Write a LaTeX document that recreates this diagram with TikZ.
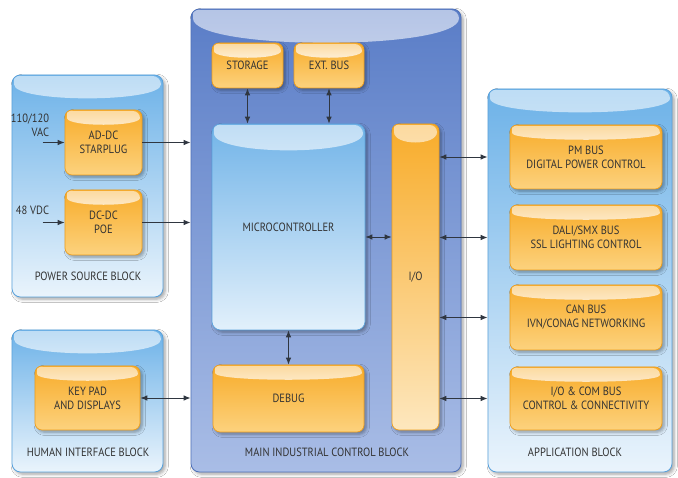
\documentclass[tikz,border=0pt]{standalone}
\usepackage{fontspec}
\setmainfont[FakeStretch=0.88]{PT Sans}
\usepackage{tikz}
\usetikzlibrary{calc,arrows.meta,shadows.blur}
\definecolor{mainbg}{HTML}{5A7DC7}
\definecolor{mainlow}{HTML}{A9BDE6}
\definecolor{mainedge}{HTML}{4F71B9}
\definecolor{sidebg}{HTML}{6DB2E8}
\definecolor{sidelow}{HTML}{EAF4FC}
\definecolor{sideedge}{HTML}{5AA2DC}
\definecolor{mcubg}{HTML}{72B4E8}
\definecolor{mculow}{HTML}{E2F0FB}
\definecolor{amber}{HTML}{F8AC2A}
\definecolor{amberlow}{HTML}{FCD27E}
\definecolor{amberedge}{HTML}{EE9E1C}
\definecolor{iolow}{HTML}{FDE7BE}
\definecolor{ink}{HTML}{333333}
\definecolor{wire}{HTML}{2F3640}
\tikzset{
  sz/.style 2 args={minimum width=#1*0.025cm, minimum height=#2*0.025cm},
  gloss/.style 2 args={path picture={
    \shade[top color=#1!45!white, bottom color=white, middle color=white!92!#1]
      ($(path picture bounding box.north west)+(2,1)$) --
      ($(path picture bounding box.north east)+(-2,1)$) ..
      controls ($(path picture bounding box.north east)+(-2,#2)$) and
      ($(path picture bounding box.north west)+(2,#2)$) .. cycle;}},
  soft/.style={blur shadow={shadow xshift=1.6pt, shadow yshift=-1.6pt,
    shadow blur radius=2.2pt, shadow opacity=35}},
  block/.style={rounded corners=6pt, draw=sideedge, line width=0.6pt,
    top color=sidebg, bottom color=sidelow, gloss={sidebg}{28}, soft},
  mainblk/.style={block, draw=mainedge, top color=mainbg, bottom color=mainlow,
    gloss={mainbg}{42}},
  mcu/.style={rounded corners=6pt, draw=sideedge, line width=0.5pt,
    top color=mcubg, bottom color=mculow, gloss={mcubg}{32}, soft,
    text=ink, font=\fontsize{8.5}{10}\selectfont},
  unit/.style={rounded corners=5pt, draw=amberedge, line width=0.5pt,
    top color=amber, bottom color=amberlow, gloss={amber}{17}, soft,
    text=ink, align=center, font=\fontsize{8.5}{10}\selectfont},
  iobar/.style={unit, bottom color=iolow, gloss={amber}{22}},
  lab/.style={text=ink, align=center, font=\fontsize{8.5}{10}\selectfont},
  one/.style={draw=wire, line width=0.7pt, -{Latex[length=5pt,width=4pt]}},
  dbl/.style={draw=wire, line width=0.7pt,
    {Latex[length=5pt,width=4pt]}-{Latex[length=5pt,width=4pt]}}
}
\begin{document}
\begin{tikzpicture}[x=0.025cm, y=-0.025cm]
  \useasboundingbox[fill=white] (0,0) rectangle (678,478);

  \node[block, sz={151}{222}] (power) at (87.5,186) {};
  \node[block, sz={151}{142}] (human) at (87.5,401) {};
  \node[mainblk, sz={270}{463}] (main) at (326,240.5) {};
  \node[block, sz={184}{383}] (app) at (580,280.5) {};

  \node[unit, sz={77}{65}] (acdc) at (103.5,142.5) {AD-DC\\STARPLUG};
  \node[unit, sz={77}{65}] (dcdc) at (103.5,222.5) {DC-DC\\POE};
  \node[unit, sz={105}{64}] (keypad) at (87.5,398) {KEY PAD\\AND DISPLAYS};

  \node[unit, sz={71}{45}] (storage) at (247.5,65.5) {STORAGE};
  \node[unit, sz={70}{45}] (extbus) at (329,65.5) {EXT. BUS};
  \node[mcu, sz={153}{206}] (micro) at (288.5,227) {MICROCONTROLLER};
  \node[unit, sz={151}{67}] (debug) at (288.5,398.5) {DEBUG};
  \node[iobar, sz={47}{306}] (io) at (415.5,277) {I/O};

  \node[unit, sz={152}{64}] (pm) at (586,157) {PM BUS\\DIGITAL POWER CONTROL};
  \node[unit, sz={152}{65}] (dali) at (586,237.5) {DALI/SMX BUS\\SSL LIGHTING CONTROL};
  \node[unit, sz={152}{65}] (can) at (586,317.5) {CAN BUS\\IVN/CONAG NETWORKING};
  \node[unit, sz={152}{63}] (iocom) at (586,398.5) {I/O \& COM BUS\\CONTROL \& CONNECTIVITY};

  \node[lab] (powerlab) at (88,276) {POWER SOURCE BLOCK};
  \node[lab] (humanlab) at (88,452) {HUMAN INTERFACE BLOCK};
  \node[lab] (mainlab) at (327,452) {MAIN INDUSTRIAL CONTROL BLOCK};
  \node[lab] (applab) at (575,452) {APPLICATION BLOCK};
  \node[lab, align=right, anchor=east] (vac) at (54,125) {110/120\\VAC};
  \node[lab, anchor=east] (vdc) at (54,210) {48 VDC};

  \coordinate (vacin) at ($(acdc.west)+(-22,0)$);
  \coordinate (vdcin) at ($(dcdc.west)+(-22,0)$);
  \coordinate (mcuout) at ($(micro.east)+(0,10)$);
  \draw[one] (vacin) -- (acdc.west);
  \draw[one] (vdcin) -- (dcdc.west);
  \draw[one] (acdc.east) -- (acdc.east -| main.west);
  \draw[one] (dcdc.east) -- (dcdc.east -| main.west);
  \draw[dbl] (keypad.east) -- (keypad.east -| main.west);

  \draw[dbl] (storage.south) -- (storage.south |- micro.north);
  \draw[dbl] (extbus.south) -- (extbus.south |- micro.north);
  \draw[dbl] (micro.south) -- (debug.north);
  \draw[dbl] (mcuout) -- (mcuout -| io.west);

  \foreach \b in {pm,dali,can,iocom}
    \draw[dbl] (\b.west -| io.east) -- (\b.west -| app.west);
\end{tikzpicture}
\end{document}
